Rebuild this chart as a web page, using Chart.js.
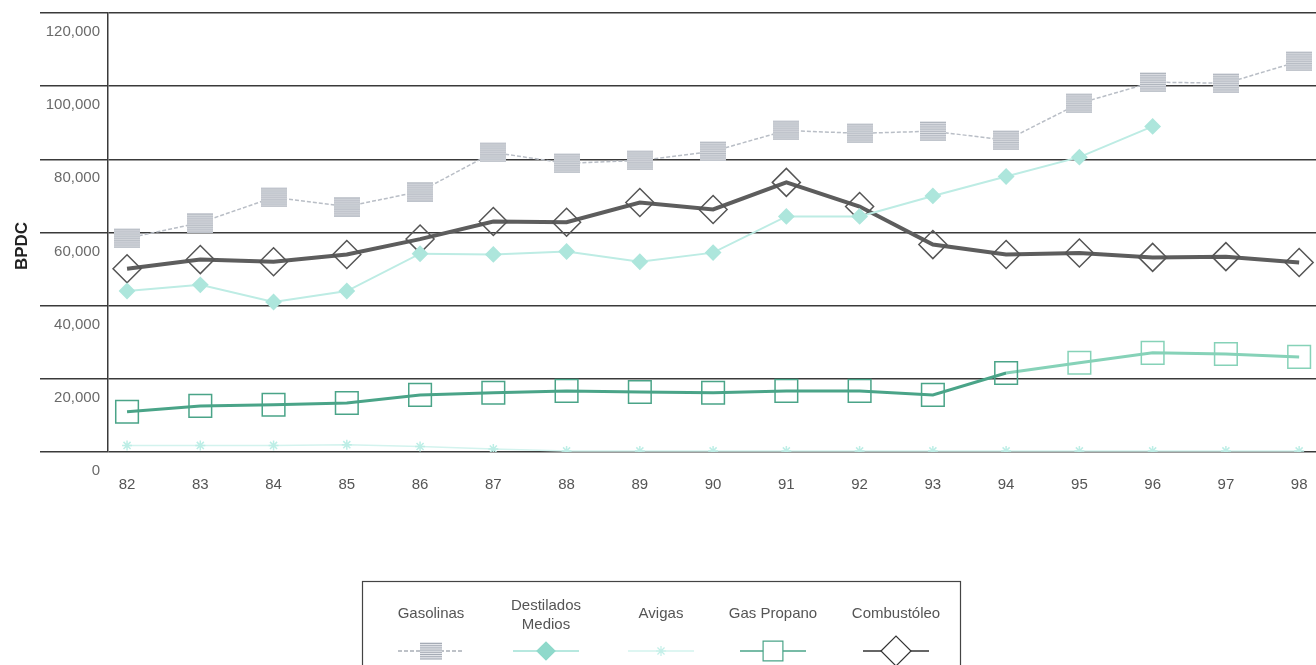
<!DOCTYPE html>
<html>
<head>
<meta charset="utf-8">
<script src="https://cdn.jsdelivr.net/npm/chart.js@4.4.0/dist/chart.umd.min.js"></script>
<style>
html, body { margin: 0; padding: 0; background: #fff; }
#caja { width: 1316px; height: 665px; position: relative; }
</style>
</head>
<body>
<div id="caja"><canvas id="grafico" width="1316" height="665"></canvas></div>
<script>
// datos (BPDC)
const anos = [82, 83, 84, 85, 86, 87, 88, 89, 90, 91, 92, 93, 94, 95, 96, 97, 98];
const gasolinas = [58400, 62700, 69600, 67100, 71200, 81900, 78900, 79700, 82200, 87900, 87100, 87700, 85200, 95300, 101100, 100800, 106800];
const destilados = [44000, 45700, 41000, 44000, 54200, 54000, 54800, 52000, 54500, 64400, 64400, 70000, 75300, 80600, 89000, null, null];
const avigas = [1800, 1800, 1800, 2000, 1500, 800, 300, 300, 300, 300, 300, 300, 300, 300, 300, 300, 300];
const gasPropano = [11000, 12600, 12900, 13400, 15600, 16200, 16700, 16400, 16200, 16700, 16700, 15600, 21600, 24400, 27100, 26800, 26000];
const combustoleo = [50100, 52600, 52000, 54000, 58200, 63000, 62800, 68200, 66300, 73700, 67100, 56700, 54000, 54400, 53200, 53400, 51800];
const ticksY = [0, 20000, 40000, 60000, 80000, 100000, 120000];
const nombres = ['Gasolinas', 'Destilados Medios', 'Avigas', 'Gas Propano', 'Combustóleo'];

const fuente = '"Liberation Sans", Arial, sans-serif';

// cuadrito rayado para las gasolinas
function rayado(w, h) {
    const c = document.createElement('canvas');
    c.width = w; c.height = h;
    const g = c.getContext('2d');
    g.fillStyle = '#e4e6ea';
    g.fillRect(0, 0, w, h);
    g.strokeStyle = '#a5abb5';
    g.lineWidth = 1;
    for (let y = 1.5; y < h; y += 2.2) {
        g.beginPath(); g.moveTo(0, y); g.lineTo(w, y); g.stroke();
    }
    return c;
}
const marcaGas = rayado(26, 20);
const marcaGasLeyenda = rayado(22, 18);

function pares(valores) {
    return anos.map((a, i) => ({x: a, y: valores[i]}));
}

const verde = '#4aa488';
const verdeClaro = '#86d2b8';

const extras = {
    id: 'extras',
    afterDraw(chart) {
        const ctx = chart.ctx;
        // titulo del eje
        ctx.save();
        ctx.translate(22, 246);
        ctx.rotate(-Math.PI / 2);
        ctx.font = 'bold 17px ' + fuente;
        ctx.fillStyle = '#222';
        ctx.textAlign = 'center';
        ctx.textBaseline = 'middle';
        ctx.fillText('BPDC', 0, 0);
        ctx.restore();

        // leyenda en caja abajo
        ctx.save();
        ctx.strokeStyle = '#444';
        ctx.lineWidth = 1.2;
        ctx.strokeRect(362.5, 581.5, 598, 120);
        const centros = [431, 546, 661, 773, 896];
        ctx.font = '15px ' + fuente;
        ctx.fillStyle = '#555';
        ctx.textAlign = 'center';
        ctx.textBaseline = 'middle';
        chart.data.datasets.forEach((ds, i) => {
            const cx = centros[i];
            const txt = ds.label;
            if (ctx.measureText(txt).width > 100) {
                const partes = txt.split(' ');
                ctx.fillText(partes[0], cx, 606);
                ctx.fillText(partes.slice(1).join(' '), cx, 625);
            } else {
                ctx.fillText(txt, cx, 614);
            }
            const y = 651;
            ctx.save();
            ctx.strokeStyle = ds.leyendaLinea;
            ctx.lineWidth = 1.5;
            ctx.setLineDash(ds.borderDash || []);
            ctx.beginPath(); ctx.moveTo(cx - 33, y); ctx.lineTo(cx + 33, y); ctx.stroke();
            ctx.restore();
            ctx.save();
            ctx.fillStyle = ds.leyendaRelleno;
            ctx.strokeStyle = ds.leyendaBorde;
            Chart.helpers.drawPoint(ctx, {
                pointStyle: ds.leyendaEstilo,
                rotation: 0,
                radius: ds.leyendaRadio,
                borderWidth: 1.5
            }, cx, y);
            ctx.restore();
        });
        ctx.restore();
    }
};

const ctx = document.getElementById('grafico').getContext('2d');

const grafico = new Chart(ctx, {
    type: 'line',
    data: {
        datasets: [
            {
                label: nombres[0],
                data: pares(gasolinas),
                borderColor: '#b9bec6',
                borderWidth: 1.5,
                borderDash: [4, 2],
                pointStyle: marcaGas,
                pointRadius: 12,
                leyendaLinea: '#a9aeb7', leyendaRelleno: '#bbb', leyendaBorde: '#999',
                leyendaEstilo: marcaGasLeyenda, leyendaRadio: 10
            },
            {
                label: nombres[1],
                data: pares(destilados),
                borderColor: '#bdece4',
                borderWidth: 2,
                pointStyle: 'rectRot',
                pointRadius: 7,
                pointBackgroundColor: '#ade6dc',
                pointBorderColor: '#ade6dc',
                spanGaps: false,
                leyendaLinea: '#9fe0d5', leyendaRelleno: '#8fd9cb', leyendaBorde: '#8fd9cb',
                leyendaEstilo: 'rectRot', leyendaRadio: 9
            },
            {
                label: nombres[2],
                data: pares(avigas),
                borderColor: '#d3f3ee',
                borderWidth: 1.5,
                pointStyle: 'star',
                pointRadius: 5,
                pointBorderColor: '#bdeee6',
                pointBackgroundColor: '#bdeee6',
                leyendaLinea: '#d3f3ee', leyendaRelleno: '#c3efe8', leyendaBorde: '#c3efe8',
                leyendaEstilo: 'star', leyendaRadio: 5
            },
            {
                label: nombres[3],
                data: pares(gasPropano),
                borderColor: verde,
                borderWidth: 3,
                segment: {
                    borderColor: c => c.p0DataIndex >= 12 ? verdeClaro : verde
                },
                pointStyle: 'rect',
                pointRadius: 16,
                pointBorderWidth: 1.5,
                pointBackgroundColor: 'rgba(0,0,0,0)',
                pointBorderColor: c => c.dataIndex >= 13 ? verdeClaro : verde,
                leyendaLinea: verde, leyendaRelleno: 'rgba(255,255,255,1)', leyendaBorde: verde,
                leyendaEstilo: 'rect', leyendaRadio: 14
            },
            {
                label: nombres[4],
                data: pares(combustoleo),
                borderColor: '#5d5d5d',
                borderWidth: 4,
                pointStyle: 'rectRot',
                pointRadius: 14,
                pointBorderWidth: 1.5,
                pointBackgroundColor: 'rgba(0,0,0,0)',
                pointBorderColor: '#555',
                leyendaLinea: '#333', leyendaRelleno: 'rgba(255,255,255,1)', leyendaBorde: '#333',
                leyendaEstilo: 'rectRot', leyendaRadio: 15
            }
        ]
    },
    options: {
        responsive: false,
        animation: false,
        layout: { autoPadding: false, padding: { top: 13, right: 0, bottom: 163, left: 0 } },
        plugins: {
            legend: { display: false },
            tooltip: { enabled: false }
        },
        elements: { line: { tension: 0 } },
        scales: {
            x: {
                type: 'linear',
                min: 81.74,
                max: 98.23,
                grid: { display: false },
                border: { display: false },
                afterBuildTicks: s => { s.ticks = anos.map(a => ({value: a})); },
                afterFit: s => { s.height = 50; s.paddingLeft = 0; s.paddingRight = 0; },
                ticks: {
                    padding: 16,
                    color: '#555',
                    font: { family: fuente, size: 15 },
                    callback: v => String(v)
                }
            },
            y: {
                min: ticksY[0],
                max: ticksY[ticksY.length - 1],
                afterBuildTicks: s => { s.ticks = ticksY.map(v => ({value: v})); },
                afterFit: s => { s.width = 108; s.paddingTop = 0; s.paddingBottom = 0; },
                grid: { color: '#3a3a3a', lineWidth: 1.5, tickLength: 68, tickColor: '#3a3a3a' },
                border: { display: true, color: '#3a3a3a', width: 1.5 },
                ticks: {
                    padding: -60,
                    labelOffset: 19,
                    color: '#6a6a6a',
                    font: { family: fuente, size: 15 },
                    callback: v => v.toLocaleString('en-US')
                }
            }
        }
    },
    plugins: [extras]
});
</script>
</body>
</html>
